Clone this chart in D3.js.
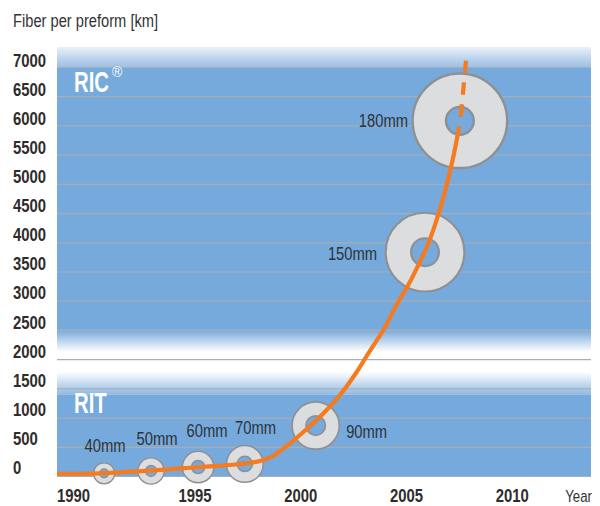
<!DOCTYPE html>
<html>
<head>
<meta charset="utf-8">
<script src="https://cdnjs.cloudflare.com/ajax/libs/d3/7.8.5/d3.min.js"></script>
<style>
  html, body { margin: 0; padding: 0; background: #fff; }
  svg { display: block; }
  text { font-family: "Liberation Sans", sans-serif; }
</style>
</head>
<body>
<div id="chart"></div>
<script>
// values
var yTicks = [0, 500, 1000, 1500, 2000, 2500, 3000, 3500, 4000, 4500, 5000, 5500, 6000, 6500, 7000];
var xTicks = [1990, 1995, 2000, 2005, 2010];

var curveYears = [1989.34, 1991.11, 1993.17, 1995.26, 1997.15, 1998.10, 1998.73, 1999.52, 2000.31, 2001.09, 2001.88, 2002.67, 2003.22, 2003.93, 2004.64, 2005.11, 2005.66, 2006.06, 2006.45, 2006.85, 2007.24, 2007.52];
var curveKm = [39, 46, 91, 154, 205, 257, 347, 560, 804, 1070, 1386, 1780, 2100, 2499, 2983, 3269, 3668, 3983, 4382, 4878, 5465, 5978];
var dashYears = [2007.59, 2007.84];
var dashKm = [6149, 7108];

var preformMm = [40, 50, 60, 70, 90, 150, 180];
var holeMm = [17, 21, 25, 29, 37, 53, 53];
var preformYears = [1991.28, 1993.21, 1995.17, 1997.38, 2000.73, 2005.9, 2007.55];
var preformKm = [46, 86, 154, 206, 863, 3831, 6079];

var margin = {top: 67, right: 9, bottom: 30, left: 57},
    W = 600,
    H = 506,
    width = W - margin.left - margin.right,
    height = H - margin.top - margin.bottom;

var svg = d3.select("#chart").append("svg")
    .attr("width", W)
    .attr("height", H);

var x = d3.scaleLinear().domain([1990, 1995, 2010]).range([73, 194.5, 511.7]);
var y = d3.scaleLinear().domain([0, 7000]).range([476, 67]);
var r = d3.scaleLinear().domain([0, 180]).range([0, 47.25]);

// no condensed face is installed, so squeeze the glyphs to the reference widths
function squeeze(sel, factor) {
    sel.each(function() {
        var len = this.getComputedTextLength();
        d3.select(this)
            .attr("textLength", len * factor)
            .attr("lengthAdjust", "spacingAndGlyphs");
    });
}

var blue = "#76a9dc";
var defs = svg.append("defs");
function fade(id, stops) {
    var g = defs.append("linearGradient").attr("id", id)
        .attr("x1", 0).attr("x2", 0).attr("y1", 0).attr("y2", 1);
    stops.forEach(function(s) {
        g.append("stop").attr("offset", s[0]).attr("stop-color", s[1]);
    });
}
fade("topFade", [[0, "#eaf0f8"], [1, "#9cbfe4"]]);
fade("midFade", [[0, blue], [1, "#ffffff"]]);
fade("lowFade", [[0, "#ffffff"], [1, "#8fb8e2"]]);

// background bands, top to bottom
function band(kmTop, kmBottom, fill) {
    svg.append("rect")
        .attr("x", margin.left)
        .attr("width", width)
        .attr("y", y(kmTop))
        .attr("height", y(kmBottom) - y(kmTop))
        .style("fill", fill);
}
band(7343, 7000, "url(#topFade)");
band(7000, 2500, blue);
band(2500, 2127, "url(#midFade)");
band(1784, 1390, "url(#lowFade)");
band(1390, 0, blue);

// y axis: labels sit just above their gridlines
var yAxis = svg.append("g")
    .attr("transform", "translate(" + margin.left + ",0)")
    .call(d3.axisLeft(y).tickValues(yTicks).tickSize(-width).tickFormat(d3.format("d")));
yAxis.select(".domain").remove();
yAxis.selectAll("line").style("stroke", "#a9aeb3").style("stroke-width", 1.2);
yAxis.selectAll("text")
    .attr("x", 13 - margin.left)
    .attr("dy", function(d) { return -2.7 + 2.2 * d / 7000; })
    .style("text-anchor", "start")
    .style("font-size", "17.5px")
    .style("font-weight", "bold")
    .style("fill", "#2f2c2c")
    .call(squeeze, 0.85);

var xAxis = svg.append("g")
    .attr("transform", "translate(0,476)")
    .call(d3.axisBottom(x).tickValues(xTicks).tickSize(0).tickFormat(d3.format("d")));
xAxis.select(".domain").remove();
xAxis.selectAll("text")
    .attr("y", 26.4)
    .attr("dy", 0)
    .style("font-size", "17.5px")
    .style("font-weight", "bold")
    .style("fill", "#2f2c2c")
    .call(squeeze, 0.85);

// discs
var discs = preformMm.map(function(d, i) {
    return {mm: d, hole: holeMm[i], year: preformYears[i], km: preformKm[i]};
});
svg.selectAll("circle.disc").data(discs).enter().append("circle")
    .attr("class", "disc")
    .attr("cx", function(d) { return x(d.year); })
    .attr("cy", function(d) { return y(d.km); })
    .attr("r", function(d) { return r(d.mm); })
    .style("fill", "#dcddde")
    .style("stroke", "#8e9194")
    .style("stroke-width", function(d) { return 1 + d.mm / 130; });
svg.selectAll("circle.hole").data(discs).enter().append("circle")
    .attr("class", "hole")
    .attr("cx", function(d) { return x(d.year); })
    .attr("cy", function(d) { return y(d.km); })
    .attr("r", function(d) { return r(d.hole); })
    .style("fill", blue)
    .style("stroke", "#8e9194")
    .style("stroke-width", function(d) { return 1 + d.mm / 130; });

// growth curve
var line = d3.line()
    .x(function(d) { return x(d[0]); })
    .y(function(d) { return y(d[1]); })
    .curve(d3.curveCatmullRom.alpha(0.5));
svg.append("path")
    .datum(d3.zip(curveYears, curveKm))
    .attr("d", line)
    .style("fill", "none")
    .style("stroke", "#f67a1e")
    .style("stroke-width", 4.2);
svg.append("path")
    .datum(d3.zip(dashYears, dashKm))
    .attr("d", line)
    .style("fill", "none")
    .style("stroke", "#f67a1e")
    .style("stroke-width", 4.2)
    .style("stroke-dasharray", "12.5 9.5");

// disc labels, offset from each disc centre
var labelDx = [1, 6, 9, 10.7, 51, -72.5, -76.5];
var labelDy = [-28, -32, -36, -36, 6, 1.3, 0];
svg.selectAll("text.size").data(discs).enter().append("text")
    .attr("class", "size")
    .attr("x", function(d, i) { return x(d.year) + labelDx[i]; })
    .attr("y", function(d, i) { return y(d.km) + labelDy[i]; })
    .attr("dy", "0.36em")
    .style("text-anchor", "middle")
    .style("font-size", "18px")
    .style("fill", "#2f3338")
    .text(function(d) { return d.mm + "mm"; })
    .call(squeeze, 0.82);

// titles
svg.append("text").attr("x", 13).attr("y", 27)
    .style("font-size", "18px").style("fill", "#333")
    .text("Fiber per preform [km]")
    .call(squeeze, 0.815);
svg.append("text").attr("x", 592).attr("y", 502.4)
    .style("text-anchor", "end").style("font-size", "17px").style("fill", "#333")
    .text("Year")
    .call(squeeze, 0.78);

// band names; scaled, so the boxes stay clear of the registered mark
svg.append("text").attr("transform", "translate(74,92) scale(0.7,1)")
    .style("font-size", "29px").style("font-weight", "bold").style("fill", "#fff")
    .text("RIC");
svg.append("text").attr("x", 112).attr("y", 77)
    .style("font-size", "14px").style("fill", "#fff")
    .text("®");
svg.append("text").attr("transform", "translate(74,413) scale(0.7,1)")
    .style("font-size", "29px").style("font-weight", "bold").style("fill", "#fff")
    .text("RIT");
</script>
</body>
</html>
